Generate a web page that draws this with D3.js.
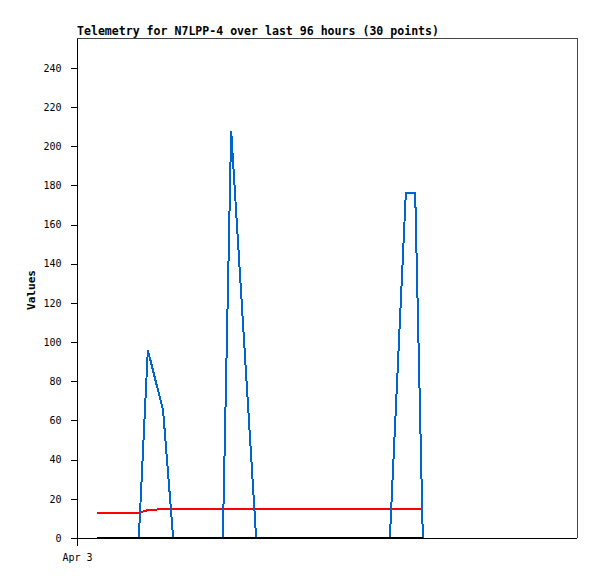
<!DOCTYPE html>
<html>
<head>
<meta charset="utf-8">
<script src="https://cdn.jsdelivr.net/npm/d3@7"></script>
<style>
  html, body { margin: 0; padding: 0; background: #fff; }
  svg { display: block; }
  text { font-family: "DejaVu Sans Mono", "Liberation Mono", monospace; }
</style>
</head>
<body>
<script>
// ---- data (hours since Apr 3 00:00) ----
const titleText = "Telemetry for N7LPP-4 over last 96 hours (30 points)";
const yLabel = "Values";
const hours = [5.8, 8.8, 11.8, 14.8, 17.8, 20.4, 24.8, 27.7, 30.5, 33.4,
               36.3, 39.2, 42.0, 44.4, 51.6, 54.8, 58.0, 61.2, 64.4, 67.6,
               70.9, 74.1, 77.3, 80.5, 83.7, 86.9, 90.1, 94.7, 97.4, 99.6];
const blueValues = [0, 0, 0, 0, 0, 96, 65, 0, 0, 0,
                    0, 0, 0, 208, 0, 0, 0, 0, 0, 0,
                    0, 0, 0, 0, 0, 0, 0, 176, 176, 0];
const redValues = [13, 13, 13, 13, 13, 14.2, 14.8, 15, 15, 15,
                   15, 15, 15, 15, 15, 15, 15, 15, 15, 15,
                   15, 15, 15, 15, 15, 15, 15, 15, 15, 15];
const blackValues = [0, 0, 0, 0, 0, 0, 0, 0, 0, 0,
                     0, 0, 0, 0, 0, 0, 0, 0, 0, 0,
                     0, 0, 0, 0, 0, 0, 0, 0, 0, 0];
const yTicks = [0, 20, 40, 60, 80, 100, 120, 140, 160, 180, 200, 220, 240];
const xTickValues = [0];
const xTickLabels = ["Apr 3"];

// ---- layout ----
const W = 597, H = 579;
const mLeft = 77, mRight = 577, mTop = 38.5, mBottom = 538;

const svg = d3.select("body").append("svg").attr("width", W).attr("height", H);
svg.append("rect").attr("width", W).attr("height", H).attr("fill", "#fff");

const x = d3.scaleLinear().domain([0, 144]).range([mLeft, mRight]);
const y = d3.scaleLinear().domain([0, 255]).range([mBottom, mTop]);

// frame (top/right gray)
svg.append("path")
  .attr("d", `M${mLeft},${mTop}H${mRight + 0.5}V${mBottom}`)
  .attr("fill", "none").attr("stroke", "#444").attr("stroke-width", 1)
  .attr("shape-rendering", "crispEdges");

// y axis
const yAxis = d3.axisLeft(y).tickValues(yTicks).tickSize(7).tickPadding(9).tickSizeOuter(0);
const gy = svg.append("g").attr("transform", `translate(${mLeft + 0.5},0)`).call(yAxis);
gy.select(".domain").remove();
gy.append("line").attr("x1", 0).attr("x2", 0).attr("y1", mTop).attr("y2", mBottom + 7)
  .attr("stroke", "#000").attr("shape-rendering", "crispEdges");
gy.selectAll(".tick line").attr("shape-rendering", "crispEdges");
gy.selectAll(".tick text").attr("font-size", 10)
  .attr("font-family", "'DejaVu Sans Mono', monospace").attr("fill", "#000");

// x axis
const xAxis = d3.axisBottom(x).tickValues(xTickValues)
  .tickFormat((d, i) => xTickLabels[i]).tickSize(7).tickPadding(8).tickSizeOuter(0);
const gx = svg.append("g").attr("transform", `translate(0,${mBottom + 0.5})`).call(xAxis);
gx.select(".domain").remove();
gx.append("line").attr("x1", mLeft).attr("x2", mRight).attr("y1", 0).attr("y2", 0)
  .attr("stroke", "#000").attr("shape-rendering", "crispEdges");
gx.selectAll(".tick line").attr("shape-rendering", "crispEdges");
gx.selectAll(".tick text").attr("font-size", 10)
  .attr("font-family", "'DejaVu Sans Mono', monospace").attr("fill", "#000");

// series
const line = vals => d3.line().x((d, i) => x(hours[i])).y(d => y(d))(vals);
const series = [
  { vals: redValues, color: "#ff0000", w: 2 },
  { vals: blueValues, color: "#0066cc", w: 2 },
  { vals: blackValues, color: "#000000", w: 2.5 }
];
series.forEach(s => {
  svg.append("path").attr("d", line(s.vals))
    .attr("fill", "none").attr("stroke", s.color).attr("stroke-width", s.w)
    .attr("stroke-linejoin", "miter").attr("shape-rendering", "crispEdges");
});

// title
svg.append("text").attr("x", mLeft).attr("y", 34.5)
  .attr("font-size", 11.5).attr("font-weight", "bold")
  .attr("textLength", 362).attr("lengthAdjust", "spacingAndGlyphs")
  .text(titleText);

// y label
svg.append("text")
  .attr("transform", `translate(35,290) rotate(-90)`)
  .attr("text-anchor", "middle")
  .attr("font-size", 11).attr("font-weight", "bold")
  .attr("textLength", 40).attr("lengthAdjust", "spacingAndGlyphs")
  .text(yLabel);
</script>
</body>
</html>
